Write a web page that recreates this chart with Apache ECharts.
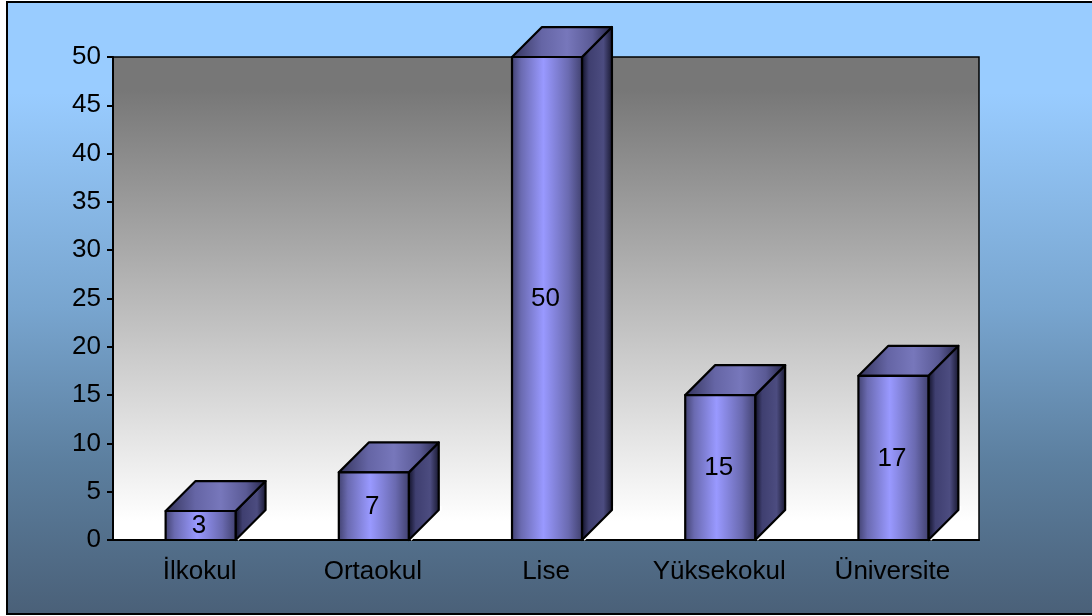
<!DOCTYPE html>
<html>
<head>
<meta charset="utf-8">
<style>html,body{margin:0;padding:0;background:#fff}#c{width:1092px;height:616px}</style>
<script src="https://cdn.jsdelivr.net/npm/echarts@6/dist/echarts.min.js"></script>
</head>
<body>
<div id="c"></div>
<script>
var categories = ['İlkokul', 'Ortaokul', 'Lise', 'Yüksekokul', 'Üniversite'];
var values = [3, 7, 50, 15, 17];
var yTickStep = 5;
var yMax = 50;

function hGrad(stops) {
  return new echarts.graphic.LinearGradient(0, 0, 1, 0, stops.map(function (s) {
    return { offset: s[0], color: s[1] };
  }));
}
var frontFill = hGrad([[0, '#3f3f6c'], [0.14, '#6a6ab0'], [0.45, '#9999ff'], [0.8, '#6a6ab0'], [1, '#3f3f6c']]);
var topFill = hGrad([[0, '#33335a'], [0.3, '#6565a5'], [0.55, '#7777bb'], [0.8, '#5a5a95'], [1, '#222244']]);
var sideFill = hGrad([[0, '#0c0c20'], [0.25, '#3f3f70'], [0.7, '#4c4c80'], [1, '#14142a']]);
var lineStyle = { stroke: '#000', lineWidth: 2.2, lineJoin: 'round' };

function renderBar(params, api) {
  var idx = api.value(0);
  var top = api.coord([idx, api.value(1)]);
  var base = api.coord([idx, 0]);
  var band = api.size([1, 0])[0];
  var w = band * 0.404;
  var d = band * 0.173;
  var x0 = top[0] - w / 2 + 1, x1 = x0 + w;
  var yT = top[1], yB = base[1];
  function poly(pts, fill) {
    return { type: 'polygon', shape: { points: pts },
      style: Object.assign({ fill: fill }, lineStyle) };
  }
  return {
    type: 'group',
    children: [
      { type: 'polyline', shape: { points: [[x1 + 2, yB], [x1 + d + 2, yB - d], [x1 + d + 2, yB - d - 4]] },
        style: { fill: 'none', stroke: '#fff', lineWidth: 2 } },
      poly([[x1, yT], [x1 + d, yT - d], [x1 + d, yB - d], [x1, yB]], sideFill),
      poly([[x0, yT], [x0 + d, yT - d], [x1 + d, yT - d], [x1, yT]], topFill),
      poly([[x0, yT], [x1, yT], [x1, yB], [x0, yB]], frontFill),
      { type: 'text', style: {
          text: String(api.value(1)), x: (x0 + x1) / 2 - 1.5, y: (yT + yB) / 2 + 0.5,
          align: 'center', verticalAlign: 'middle',
          font: '26px "Liberation Sans"', fill: '#000' } }
    ]
  };
}

var chart = echarts.init(document.getElementById('c'), null, { renderer: 'canvas' });
chart.setOption({
  animation: false,
  backgroundColor: '#fff',
  graphic: [{
    type: 'rect', z: -10, silent: true,
    shape: { x: 7, y: 2, width: 1100, height: 612 },
    style: {
      stroke: '#000', lineWidth: 2,
      fill: new echarts.graphic.LinearGradient(0, 0, 0, 1, [
        { offset: 0, color: '#99ccff' },
        { offset: 0.15, color: '#99ccff' },
        { offset: 0.5, color: '#78a5cf' },
        { offset: 0.75, color: '#5c7f9f' },
        { offset: 1, color: '#4a6078' }
      ])
    }
  }],
  grid: {
    left: 113, top: 57, width: 866, height: 483, show: true, z: 0,
    borderColor: '#000', borderWidth: 1.5,
    backgroundColor: new echarts.graphic.LinearGradient(0, 0, 0, 1, [
      { offset: 0, color: '#777777' }, { offset: 0.07, color: '#777777' },
      { offset: 0.96, color: '#ffffff' }, { offset: 1, color: '#ffffff' }
    ])
  },
  xAxis: {
    type: 'category', data: categories,
    axisTick: { show: false },
    axisLine: { lineStyle: { color: '#000', width: 2 } },
    axisLabel: { color: '#000', fontFamily: 'Liberation Sans', fontSize: 26, margin: 19 }
  },
  yAxis: {
    type: 'value', min: 0, max: yMax, interval: yTickStep,
    splitLine: { show: false },
    axisLine: { show: true, lineStyle: { color: '#000', width: 2 } },
    axisTick: { show: true, length: 6, lineStyle: { color: '#000', width: 2 } },
    axisLabel: { color: '#000', fontFamily: 'Liberation Sans', fontSize: 26, margin: 12, padding: [3, 0, 0, 0] }
  },
  series: [{
    type: 'custom',
    clip: false,
    renderItem: renderBar,
    encode: { x: 0, y: 1 },
    data: values.map(function (v, i) { return [i, v]; })
  }]
});
</script>
</body>
</html>
